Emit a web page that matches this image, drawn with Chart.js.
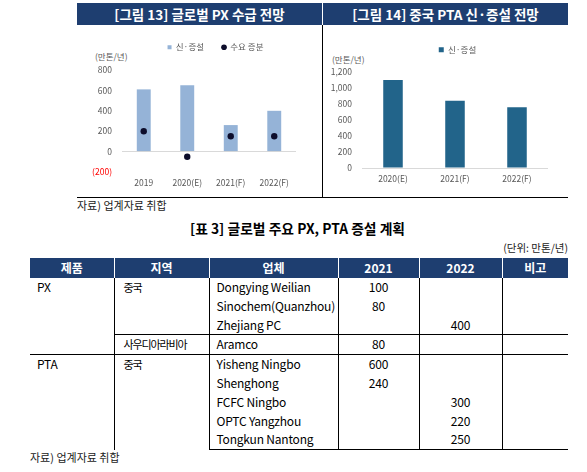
<!DOCTYPE html>
<html>
<head>
<meta charset="utf-8">
<script src="https://cdn.jsdelivr.net/npm/chart.js@4/dist/chart.umd.min.js"></script>
<style>
body{margin:0;width:587px;height:472px;position:relative;background:#fff;overflow:hidden;
  font-family:"Noto Sans CJK KR","Noto Sans",sans-serif;color:#000}
.hdr{position:absolute;top:3px;height:22px;background:#1e3e70;color:#fff;font-weight:bold;
  font-size:13.5px;line-height:22px;text-align:center}
.unit{position:absolute;font-size:8.5px;color:#595959;line-height:10px}
.src{position:absolute;font-size:11px;color:#222;line-height:13px}
canvas{position:absolute}
#tbl{position:absolute;left:30px;top:258px;width:538px;border-collapse:collapse;table-layout:fixed;font-size:12px;letter-spacing:-0.2px}
#tbl th{background:#1e3e70;color:#fff;font-size:12px;font-weight:bold;height:20px;padding:0;border-left:1px solid #fff;line-height:20px;letter-spacing:0}
#tbl th:first-child{border-left:none}
#tbl td{height:18.8px;padding:0 0 0 7px;border-left:1px solid #000;line-height:18px;vertical-align:top;white-space:nowrap}
#tbl td.first{border-left:none}
#tbl td.num{text-align:center;padding:0}
#tbl td.ko{font-size:11px;letter-spacing:-1.1px;padding-left:9px}
#tbl tr.sep td{border-top:1px solid #000}
#tbl tr.last td{border-bottom:1px solid #000}
</style>
</head>
<body>

<div class="hdr" style="left:77px;width:245px">[그림 13] 글로벌 PX 수급 전망</div>
<div class="hdr" style="left:323px;width:245px">[그림 14] 중국 PTA 신·증설 전망</div>
<div style="position:absolute;left:322px;top:25px;width:1px;height:172px;background:#000;z-index:2"></div>
<div style="position:absolute;left:77px;top:197px;width:491px;height:1px;background:#000;z-index:2"></div>
<div class="unit" style="left:95px;top:51px">(만톤/년)</div>
<div class="unit" style="left:332px;top:54px">(만톤/년)</div>
<div class="src" style="left:77px;top:199px">자료) 업계자료 취합</div>

<canvas id="c1" width="251" height="167" style="left:90px;top:25px"></canvas>
<canvas id="c2" width="255" height="160" style="left:330px;top:28px"></canvas>

<div style="position:absolute;left:0;width:587px;top:220px;text-align:center;font-size:13.8px;font-weight:bold;line-height:17px;padding-left:8px;box-sizing:border-box">[표 3] 글로벌 주요 PX, PTA 증설 계획</div>
<div style="position:absolute;right:19px;top:241px;font-size:10.5px;line-height:13px;color:#222">(단위: 만톤/년)</div>

<table id="tbl">
<colgroup><col style="width:84px"><col style="width:95px"><col style="width:129px"><col style="width:81px"><col style="width:83px"><col style="width:66px"></colgroup>
<tr><th>제품</th><th>지역</th><th>업체</th><th>2021</th><th>2022</th><th>비고</th></tr>
<tr><td class="first" rowspan="4">PX</td><td class="ko" rowspan="3">중국</td><td>Dongying Weilian</td><td class="num">100</td><td class="num"></td><td></td></tr>
<tr><td>Sinochem(Quanzhou)</td><td class="num">80</td><td class="num"></td><td></td></tr>
<tr><td>Zhejiang PC</td><td class="num"></td><td class="num">400</td><td></td></tr>
<tr class="sep"><td class="ko">사우디아라비아</td><td>Aramco</td><td class="num">80</td><td class="num"></td><td></td></tr>
<tr class="sep"><td class="first" rowspan="5">PTA</td><td class="ko" rowspan="5">중국</td><td>Yisheng Ningbo</td><td class="num">600</td><td class="num"></td><td></td></tr>
<tr><td>Shenghong</td><td class="num">240</td><td class="num"></td><td></td></tr>
<tr><td>FCFC Ningbo</td><td class="num"></td><td class="num">300</td><td></td></tr>
<tr><td>OPTC Yangzhou</td><td class="num"></td><td class="num">220</td><td></td></tr>
<tr class="last"><td>Tongkun Nantong</td><td class="num"></td><td class="num">250</td><td></td></tr>
</table>
<div class="src" style="left:30px;top:451px">자료) 업계자료 취합</div>

<script>
// 그림 13 - 글로벌 PX 수급
const pxYears = ['2019', '2020(E)', '2021(F)', '2022(F)'];
const pxNewCap = [610, 650, 260, 400];      // 신·증설
const pxDemandInc = [200, -50, 150, 150];   // 수요 증분
const pxRange = [-200, 800];

// 그림 14 - 중국 PTA 신·증설
const ptaYears = ['2020(E)', '2021(F)', '2022(F)'];
const ptaNewCap = [1100, 840, 760];
const ptaRange = [0, 1200];

Chart.defaults.font.family = '"Noto Sans CJK KR", "Noto Sans", sans-serif';
Chart.defaults.animation = false;

const gray = '#595959';

// empty right axis, keeps the plot narrower than the canvas
function spacer(w) {
    return {position: 'right', display: true, grid: {display: false}, border: {display: false},
        ticks: {display: false}, afterFit: function(s) { s.width = w; }};
}
// empty title box between legend and plot (weight < legend)
function gap(h) {
    return {display: true, text: '', weight: 500, padding: 0, font: {size: h, lineHeight: 1}};
}

new Chart(document.getElementById('c1'), {
    type: 'bar',
    data: {
        labels: pxYears,
        datasets: [{
            label: '신·증설',
            data: pxNewCap,
            backgroundColor: '#95b3d7',
            borderWidth: 0,
            pointStyle: 'rect',
            barPercentage: 0.32,
            categoryPercentage: 1,
            order: 1
        }, {
            type: 'line',
            label: '수요 증분',
            data: pxDemandInc,
            showLine: false,
            pointStyle: 'circle',
            pointRadius: 3.2,
            pointBorderWidth: 0,
            borderWidth: 0,
            backgroundColor: '#0d0d2b',
            borderColor: '#0d0d2b',
            order: 0
        }]
    },
    options: {
        responsive: false,
        plugins: {
            tooltip: {enabled: false},
            title: gap(8.5),
            legend: {
                position: 'top',
                labels: {usePointStyle: true, boxWidth: 4, boxHeight: 4, padding: 18,
                    color: gray, font: {size: 8.5},
                    sort: function(a, b) { return a.datasetIndex - b.datasetIndex; }}
            }
        },
        scales: {
            x: {
                grid: {display: false, drawTicks: false},
                border: {display: false},
                ticks: {color: gray, font: {size: 8.5}, padding: 6},
                afterFit: function(s) { s.height = 20; }
            },
            y: {
                min: pxRange[0], max: pxRange[1],
                border: {display: false},
                grid: {drawTicks: false,
                    color: function(c) { return c.tick && c.tick.value === 0 ? '#d9d9d9' : 'rgba(0,0,0,0)'; }},
                ticks: {stepSize: 200, padding: 10, font: {size: 8.5},
                    color: function(c) { return c.tick.value < 0 ? '#ff0000' : gray; },
                    callback: function(v) { return v < 0 ? '(' + (-v) + ')' : v; }},
                afterFit: function(s) { s.width = 32; }
            },
            yR: spacer(45)
        }
    }
});

new Chart(document.getElementById('c2'), {
    type: 'bar',
    data: {
        labels: ptaYears,
        datasets: [{
            label: '신·증설',
            data: ptaNewCap,
            backgroundColor: '#22648a',
            borderWidth: 0,
            pointStyle: 'rect',
            barPercentage: 0.315,
            categoryPercentage: 1
        }]
    },
    options: {
        responsive: false,
        plugins: {
            tooltip: {enabled: false},
            title: gap(8),
            legend: {
                position: 'top',
                labels: {usePointStyle: true, boxWidth: 5, boxHeight: 5, padding: 17.5,
                    color: gray, font: {size: 8.5}}
            }
        },
        scales: {
            x: {
                grid: {display: false, drawTicks: false},
                border: {display: false},
                ticks: {color: gray, font: {size: 8.5}, padding: 6},
                afterFit: function(s) { s.height = 20; }
            },
            y: {
                min: ptaRange[0], max: ptaRange[1],
                border: {display: false},
                grid: {drawTicks: false,
                    color: function(c) { return c.tick && c.tick.value === 0 ? '#d9d9d9' : 'rgba(0,0,0,0)'; }},
                ticks: {stepSize: 200, padding: 10, font: {size: 8.5}, color: gray},
                afterFit: function(s) { s.width = 32; }
            },
            yR: spacer(37)
        }
    }
});
</script>
</body>
</html>
